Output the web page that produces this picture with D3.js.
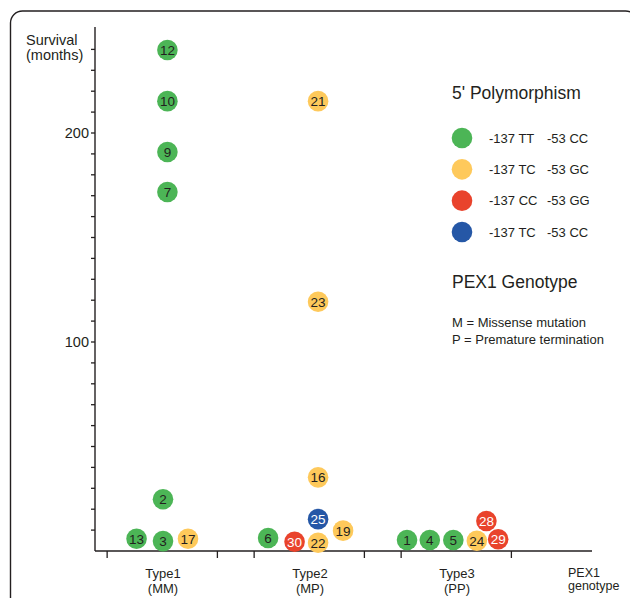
<!DOCTYPE html>
<html>
<head>
<meta charset="utf-8">
<script src="https://cdn.jsdelivr.net/npm/d3@7"></script>
<style>
  body { margin: 0; background: #fff; }
  svg { display: block; font-family: "Liberation Sans", Arial, sans-serif; }
</style>
</head>
<body>
<svg id="chart" width="630" height="598"></svg>
<script>
// PEX1 genotype groups
const categories = ["Type1", "Type2", "Type3"];
const categorySubs = ["(MM)", "(MP)", "(PP)"];

// 5' polymorphism classes
const polyColors = ["#4cb556", "#fec95b", "#e9432c", "#2557a6"];
const polyLeft = ["-137 TT", "-137 TC", "-137 CC", "-137 TC"];
const polyRight = ["-53 CC", "-53 GC", "-53 GG", "-53 CC"];

// one entry per patient
const patientIds = [12, 10, 9, 7, 2, 13, 3, 17, 21, 23, 16, 25, 19, 6, 30, 22, 1, 4, 5, 24, 28, 29];
const patientGroup = ["Type1", "Type1", "Type1", "Type1", "Type1", "Type1", "Type1", "Type1",
    "Type2", "Type2", "Type2", "Type2", "Type2", "Type2", "Type2", "Type2",
    "Type3", "Type3", "Type3", "Type3", "Type3", "Type3"];
const survivalMonths = [239.5, 215, 190.7, 171.5, 24.5, 5.6, 4.5, 5.6,
    215, 119, 35, 15, 9.5, 6, 4.2, 3.7,
    5, 5, 5, 4.7, 14.1, 5.4];
const patientPoly = [0, 0, 0, 0, 0, 0, 0, 1, 1, 1, 1, 3, 1, 0, 2, 1, 0, 0, 0, 1, 2, 2];
// horizontal dodge within a group, as a fraction of the group spacing
const dodge = [0.03, 0.03, 0.03, 0.03, 0, -0.18, 0, 0.17,
    0.055, 0.055, 0.055, 0.055, 0.225, -0.285, -0.105, 0.055,
    -0.34, -0.185, -0.025, 0.135, 0.2, 0.28];

const yTickValues = d3.range(10, 250, 10);
const yLabelValues = [100, 200];

const svg = d3.select("#chart");
const ink = "#231f20";

// rounded frame
svg.append("rect")
    .attr("x", 10.5).attr("y", 11)
    .attr("width", 627).attr("height", 700)
    .attr("rx", 12)
    .attr("fill", "none")
    .attr("stroke", ink)
    .attr("stroke-width", 1.4);

const plotLeft = 95, plotRight = 592, plotBottom = 551;

const y = d3.scaleLinear().domain([0, 250]).range([550.5, 28]);
const x = d3.scalePoint().domain(categories).range([163, 457]);
const step = x.step();

// y axis
const yAxis = d3.axisLeft(y)
    .tickValues(yTickValues)
    .tickSize(4)
    .tickFormat(d => yLabelValues.includes(d) ? d : "");
const gy = svg.append("g")
    .attr("transform", `translate(${plotLeft},0)`)
    .call(yAxis);
gy.select(".domain").remove();
gy.selectAll(".tick line").attr("stroke", ink).attr("stroke-width", 1.3);
gy.selectAll(".tick text")
    .attr("font-size", 14.5).attr("fill", ink)
    .attr("font-family", "Liberation Sans, Arial, sans-serif")
    .attr("x", -6);
svg.append("line")
    .attr("x1", plotLeft).attr("x2", plotLeft)
    .attr("y1", y(250) - 1).attr("y2", plotBottom)
    .attr("stroke", ink).attr("stroke-width", 1.4);

// x axis
svg.append("line")
    .attr("x1", plotLeft).attr("x2", plotRight)
    .attr("y1", plotBottom).attr("y2", plotBottom)
    .attr("stroke", ink).attr("stroke-width", 1.4);

const tickEdges = [-0.38, 0.37];
categories.forEach((c, i) => {
    tickEdges.forEach(f => {
        const tx = x(c) + f * step;
        svg.append("line")
            .attr("x1", tx).attr("x2", tx)
            .attr("y1", plotBottom).attr("y2", plotBottom + 7)
            .attr("stroke", ink).attr("stroke-width", 1.3);
    });
    svg.append("text")
        .attr("x", x(c)).attr("y", 578)
        .attr("text-anchor", "middle")
        .attr("font-size", 13).attr("fill", ink)
        .text(c);
    svg.append("text")
        .attr("x", x(c)).attr("y", 593)
        .attr("text-anchor", "middle")
        .attr("font-size", 13).attr("fill", ink)
        .text(categorySubs[i]);
});

svg.append("text")
    .attr("x", 568).attr("y", 577)
    .attr("font-size", 12.5).attr("fill", ink)
    .text("PEX1");
svg.append("text")
    .attr("x", 568).attr("y", 590)
    .attr("font-size", 12.5).attr("fill", ink)
    .text("genotype");

// y title
svg.append("text")
    .attr("x", 26).attr("y", 45)
    .attr("font-size", 14.5).attr("fill", ink)
    .text("Survival");
svg.append("text")
    .attr("x", 26).attr("y", 60)
    .attr("font-size", 14.5).attr("fill", ink)
    .text("(months)");

// patients
const points = patientIds.map((id, i) => ({
    id: id,
    group: patientGroup[i],
    value: survivalMonths[i],
    poly: patientPoly[i],
    dodge: dodge[i]
}));

const dot = svg.append("g")
    .selectAll("g")
    .data(points)
    .join("g")
    .attr("transform", d => `translate(${x(d.group) + d.dodge * step},${y(d.value)})`);

dot.append("circle")
    .attr("r", 10.3)
    .attr("fill", d => polyColors[d.poly]);

dot.append("text")
    .attr("text-anchor", "middle")
    .attr("dy", "0.36em")
    .attr("font-size", 13.5)
    .attr("fill", d => d.poly >= 2 ? "#fff" : ink)
    .text(d => d.id);

// legend
const legend = svg.append("g");
legend.append("text")
    .attr("x", 452).attr("y", 99)
    .attr("font-size", 17.5).attr("fill", ink)
    .text("5' Polymorphism");

const legendY = d3.scalePoint().domain(d3.range(polyColors.length)).range([138, 232]);
const entry = legend.selectAll("g.entry")
    .data(d3.range(polyColors.length))
    .join("g")
    .attr("class", "entry")
    .attr("transform", d => `translate(0,${legendY(d)})`);
entry.append("circle")
    .attr("cx", 462)
    .attr("r", 10.3)
    .attr("fill", d => polyColors[d]);
entry.append("text")
    .attr("x", 489).attr("dy", "0.36em")
    .attr("font-size", 13).attr("fill", ink)
    .text(d => polyLeft[d]);
entry.append("text")
    .attr("x", 547).attr("dy", "0.36em")
    .attr("font-size", 13).attr("fill", ink)
    .text(d => polyRight[d]);

legend.append("text")
    .attr("x", 452).attr("y", 288)
    .attr("font-size", 17.5).attr("fill", ink)
    .text("PEX1 Genotype");
legend.append("text")
    .attr("x", 452).attr("y", 327)
    .attr("font-size", 13).attr("fill", ink)
    .text("M = Missense mutation");
legend.append("text")
    .attr("x", 452).attr("y", 344)
    .attr("font-size", 13).attr("fill", ink)
    .text("P = Premature termination");
</script>
</body>
</html>
